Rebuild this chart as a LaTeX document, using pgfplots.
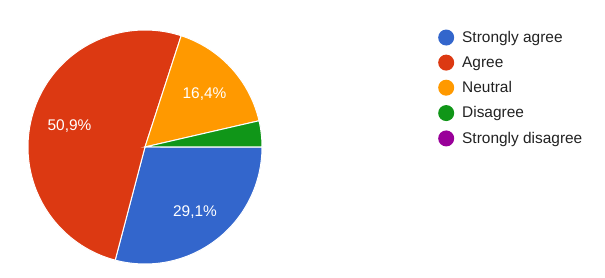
\documentclass[border=0pt]{standalone}
\usepackage{fontspec}
\setmainfont{Liberation Sans}
\usepackage{pgfplots}
\pgfplotsset{compat=1.18}
\definecolor{gblue}{HTML}{3366CC}
\definecolor{gred}{HTML}{DC3912}
\definecolor{gorange}{HTML}{FF9900}
\definecolor{ggreen}{HTML}{109618}
\definecolor{gpurple}{HTML}{990099}
\definecolor{txt}{HTML}{222222}
% shares (%): Strongly agree 29.1, Agree 50.9, Neutral 16.4, Disagree 3.6, Strongly disagree 0
% slices run clockwise from 0 deg (east): 360*share/100 degrees each
\begin{document}
\begin{tikzpicture}
\begin{axis}[
  scale only axis, width=605bp, height=278bp,
  xmin=0, xmax=605, ymin=0, ymax=278,
  hide axis, clip=false,
  legend image code/.code={\path[#1, draw=none] (0bp,0bp) circle (8bp);},
  legend cell align=left,
  legend style={at={(axis cs:435,251)}, anchor=north west, draw=none, fill=none,
    font=\fontsize{15.5}{18}\selectfont, text=txt, row sep=8.7bp,
    /tikz/every odd column/.append style={column sep=6bp}},
]
\path (rel axis cs:0,0) rectangle (rel axis cs:1,1);
\addplot[fill=gblue, draw=white, line width=1bp, domain=255.24:360, samples=90, variable=\t]
  ({145+117*cos(t)},{131+117*sin(t)}) -- (axis cs:145,131) -- cycle;
\addlegendentry{Strongly agree}
\addplot[fill=gred, draw=white, line width=1bp, domain=72.0:255.24, samples=150, variable=\t]
  ({145+117*cos(t)},{131+117*sin(t)}) -- (axis cs:145,131) -- cycle;
\addlegendentry{Agree}
\addplot[fill=gorange, draw=white, line width=1bp, domain=12.96:72.0, samples=60, variable=\t]
  ({145+117*cos(t)},{131+117*sin(t)}) -- (axis cs:145,131) -- cycle;
\addlegendentry{Neutral}
\addplot[fill=ggreen, draw=white, line width=1bp, domain=0:12.96, samples=20, variable=\t]
  ({145+117*cos(t)},{131+117*sin(t)}) -- (axis cs:145,131) -- cycle;
\addlegendentry{Disagree}
\addlegendimage{fill=gpurple}
\addlegendentry{Strongly disagree}
\node[text=white, font=\fontsize{15.5}{18}\selectfont] at (axis cs:69.5,152) {50,9\%};
\node[text=white, font=\fontsize{15.5}{18}\selectfont] at (axis cs:204.5,184) {16,4\%};
\node[text=white, font=\fontsize{15.5}{18}\selectfont] at (axis cs:195,65.5) {29,1\%};
\end{axis}
\end{tikzpicture}
\end{document}
